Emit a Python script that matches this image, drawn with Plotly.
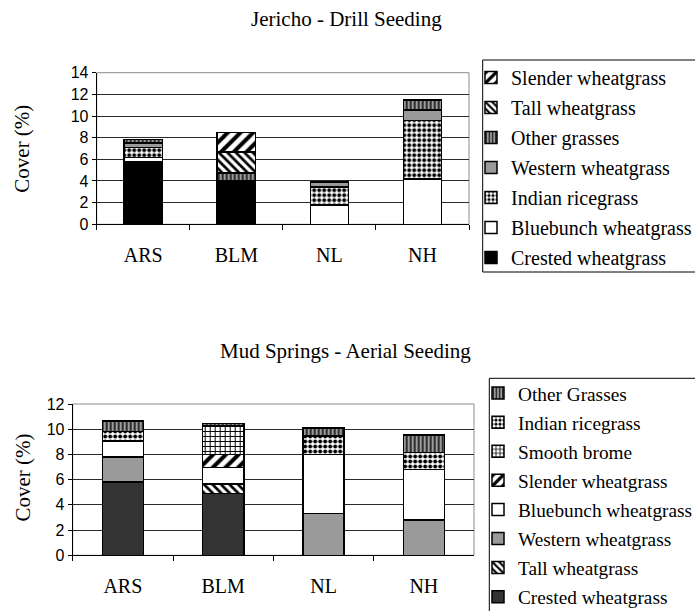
import plotly.graph_objects as go

W, H = 695, 611

sites = ["ARS", "BLM", "NL", "NH"]

# Jericho - Drill Seeding: cover (%) per species, listed from the bottom of each stack up
j_crested = [5.8, 4.0, None, None]
j_bluebunch = [0.35, None, 1.8, 4.2]
j_indian = [0.95, None, 1.65, 5.4]
j_western = [0.4, None, 0.45, 0.95]
j_other = [0.35, 0.75, None, 0.95]
j_tall = [None, 1.95, None, None]
j_slender = [None, 1.8, None, None]

# Mud Springs - Aerial Seeding
m_crested = [5.8, 4.9, None, None]
m_tall = [None, 0.75, None, None]
m_western = [2.0, None, 3.3, 2.8]
m_bluebunch = [1.25, 1.3, 4.7, 4.0]
m_slender = [None, 1.05, None, None]
m_smooth = [None, 2.2, None, None]
m_indian = [0.75, 0.1, 1.45, 1.35]
m_other = [0.85, 0.15, 0.65, 1.4]

SERIF = "Liberation Serif, Times New Roman, serif"
SANS = "Liberation Sans, Arial, sans-serif"


def px_x(v):
    return v / W


def px_y(v):
    return 1 - v / H


def solid(color):
    return dict(color=color, line=dict(color="black", width=1.5))


def hatch(shape, fg, bg, size, solidity):
    return dict(
        color=bg,
        line=dict(color="black", width=1.5),
        pattern=dict(shape=shape, fgcolor=fg, bgcolor=bg, size=size,
                     solidity=solidity, fillmode="replace"),
    )


STYLE = {
    "crested_j": solid("#000000"),
    "crested_m": solid("#333333"),
    "bluebunch": solid("#ffffff"),
    "western": solid("#9a9a9a"),
    "indian": hatch(".", "#000000", "#ffffff", 5, 0.5),
    "other": hatch("|", "#222222", "#9a9a9a", 4, 0.45),
    "tall": hatch("\\", "#000000", "#ffffff", 6, 0.45),
    "slender": hatch("/", "#000000", "#ffffff", 9, 0.45),
    "smooth": hatch("+", "#000000", "#ffffff", 5, 0.35),
}

top_series = [
    ("Crested wheatgrass", j_crested, "crested_j"),
    ("Bluebunch wheatgrass", j_bluebunch, "bluebunch"),
    ("Indian ricegrass", j_indian, "indian"),
    ("Western wheatgrass", j_western, "western"),
    ("Other grasses", j_other, "other"),
    ("Tall wheatgrass", j_tall, "tall"),
    ("Slender wheatgrass", j_slender, "slender"),
]

bottom_series = [
    ("Crested wheatgrass", m_crested, "crested_m"),
    ("Tall wheatgrass", m_tall, "tall"),
    ("Western wheatgrass", m_western, "western"),
    ("Bluebunch wheatgrass", m_bluebunch, "bluebunch"),
    ("Slender wheatgrass", m_slender, "slender"),
    ("Smooth brome", m_smooth, "smooth"),
    ("Indian ricegrass", m_indian, "indian"),
    ("Other Grasses", m_other, "other"),
]

fig = go.Figure()

# legend lists the top of each stack first
for i, (name, vals, key) in enumerate(top_series):
    fig.add_trace(go.Bar(
        x=sites, y=vals, name=name, marker=STYLE[key],
        xaxis="x", yaxis="y", legend="legend", legendgroup=f"j{i}",
        legendrank=100 - i,
    ))

for i, (name, vals, key) in enumerate(bottom_series):
    fig.add_trace(go.Bar(
        x=sites, y=vals, name=name, marker=STYLE[key],
        xaxis="x2", yaxis="y2", legend="legend2", legendgroup=f"m{i}",
        legendrank=100 - i,
    ))

# plot areas (pixel geometry of the page)
TOP = dict(l=96.7, r=469, t=72.7, b=224.3)
BOT = dict(l=72.7, r=474, t=404, b=555.3)

xaxis_common = dict(
    type="category", showline=True, linecolor="black", linewidth=1,
    ticks="outside", tickson="boundaries", ticklen=5, tickcolor="black",
    showgrid=False, tickfont=dict(family=SERIF, size=20, color="black"),
    ticklabelstandoff=13, fixedrange=True,
)
yaxis_common = dict(
    showline=True, linecolor="black", linewidth=1, ticks="outside", ticklen=4,
    tickcolor="black", dtick=2, showgrid=True, gridcolor="#2a2a2a", gridwidth=1,
    zeroline=False, tickfont=dict(family=SANS, size=16, color="black"),
    fixedrange=True,
)

legend_common = dict(
    xanchor="left", yanchor="top", bgcolor="rgba(0,0,0,0)", borderwidth=0,
    traceorder="grouped", tracegroupgap=1.0,
    font=dict(family=SERIF, size=20, color="black"),
)

fig.update_layout(
    width=W, height=H,
    margin=dict(l=0, r=0, t=0, b=0, autoexpand=False),
    paper_bgcolor="white", plot_bgcolor="white",
    barmode="stack", bargap=0.59,
    showlegend=True,
    xaxis=dict(domain=[px_x(TOP["l"]), px_x(TOP["r"])], anchor="y", **xaxis_common),
    yaxis=dict(domain=[px_y(TOP["b"]), px_y(TOP["t"])], anchor="x",
               range=[0, 14], **yaxis_common),
    xaxis2=dict(domain=[px_x(BOT["l"]), px_x(BOT["r"])], anchor="y2", **xaxis_common),
    yaxis2=dict(domain=[px_y(BOT["b"]), px_y(BOT["t"])], anchor="x2",
                range=[0, 12], **yaxis_common),
    legend=dict(x=px_x(471), y=px_y(58), **legend_common),
    legend2=dict(x=px_x(478), y=px_y(374), **{**legend_common,
                 "font": dict(family=SERIF, size=19.3, color="black")}),
)

# plot-area frames and legend boxes
for xr, yr in (("x domain", "y domain"), ("x2 domain", "y2 domain")):
    fig.add_shape(type="rect", xref=xr, yref=yr, x0=0, x1=1, y0=0, y1=1,
                  line=dict(color="#8c8c8c", width=1), layer="below")

fig.add_shape(type="rect", xref="paper", yref="paper",
              x0=px_x(482.7), x1=px_x(705), y0=px_y(272), y1=px_y(60),
              line=dict(color="black", width=1))
fig.add_shape(type="rect", xref="paper", yref="paper",
              x0=px_x(489.3), x1=px_x(705), y0=px_y(620), y1=px_y(378.3),
              line=dict(color="black", width=1))

# titles
def label(text, x, y, angle=0):
    fig.add_annotation(text=text, xref="paper", yref="paper",
                       x=px_x(x), y=px_y(y), xanchor="center", yanchor="middle",
                       showarrow=False, textangle=angle,
                       font=dict(family=SERIF, size=21, color="black"))


label("Jericho - Drill Seeding", 346, 19)
label("Mud Springs - Aerial Seeding", 345.5, 351)
label("Cover (%)", 21.7, 149, -90)
label("Cover (%)", 22.5, 478, -90)

fig.write_html("out.html")
